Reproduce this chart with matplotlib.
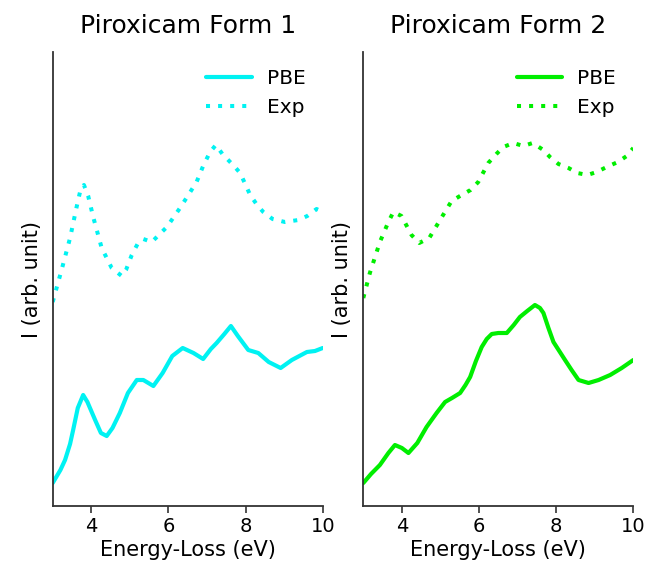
import matplotlib
matplotlib.use("Agg")
import matplotlib.pyplot as plt

titles = ["Piroxicam Form 1", "Piroxicam Form 2"]
series_labels = ["PBE", "Exp"]
xticks = [4, 6, 8, 10]

# Form 1
e1_pbe = [3.00, 3.20, 3.32, 3.45, 3.53, 3.65, 3.79, 3.90, 4.10, 4.25, 4.40, 4.55, 4.74, 4.95,
          5.18, 5.35, 5.61, 5.85, 6.10, 6.37, 6.65, 6.90, 7.10, 7.25, 7.45, 7.62, 7.80, 8.07,
          8.33, 8.60, 8.91, 9.20, 9.59, 9.80, 10.0]
i1_pbe = [23, 36, 46, 62, 76, 98, 111, 104, 86, 73, 70, 78, 93, 113,
          126, 126, 120, 133, 150, 158, 153, 147, 157, 163, 172, 180, 170, 156,
          153, 144, 138, 146, 154, 155, 158]
e1_exp = [3.00, 3.23, 3.45, 3.62, 3.72, 3.81, 3.92, 4.05, 4.27, 4.53, 4.79, 4.90, 5.05, 5.20,
          5.35, 5.57, 5.75, 5.96, 6.30, 6.50, 6.73, 6.90, 7.08, 7.23, 7.40, 7.55, 7.70, 7.86,
          8.12, 8.30, 8.46, 8.70, 9.02, 9.37, 9.60, 9.84, 10.0]
i1_exp = [204, 236, 268, 299, 316, 321, 310, 289, 258, 238, 230, 236, 251, 262,
          267, 264, 271, 279, 298, 310, 324, 340, 354, 361, 352, 346, 340, 333,
          311, 301, 294, 287, 284, 286, 290, 297, 294]

# Form 2
e2_pbe = [3.00, 3.20, 3.43, 3.65, 3.82, 4.00, 4.17, 4.40, 4.64, 4.90, 5.12, 5.30, 5.51, 5.65,
          5.77, 5.92, 6.07, 6.20, 6.33, 6.50, 6.72, 6.90, 7.06, 7.25, 7.45, 7.58, 7.67, 7.80,
          7.93, 8.23, 8.40, 8.58, 8.84, 9.10, 9.40, 9.70, 10.0]
i2_pbe = [23, 32, 41, 53, 61, 58, 53, 63, 79, 93, 104, 108, 113, 121,
          129, 145, 159, 167, 172, 173, 173, 181, 189, 195, 201, 198, 193, 178,
          164, 146, 136, 126, 123, 126, 131, 138, 146]
e2_exp = [3.00, 3.17, 3.43, 3.65, 3.78, 3.99, 4.25, 4.45, 4.71, 4.99, 5.29, 5.55, 5.78, 5.98,
          6.24, 6.45, 6.63, 6.89, 7.15, 7.39, 7.67, 7.84, 8.06, 8.32, 8.55, 8.81, 9.05, 9.31,
          9.60, 9.83, 10.0]
i2_exp = [208, 233, 264, 284, 294, 290, 271, 263, 268, 286, 305, 311, 316, 324,
          343, 352, 359, 363, 360, 363, 356, 349, 342, 338, 333, 331, 334, 339,
          344, 350, 358]

colors = ["#00F2F2", "#00EE00"]

fig = plt.figure(figsize=(6.62, 5.78), dpi=100)
positions = [[52.7 / 662, 72 / 578, 270 / 662, 454 / 578],
             [363.3 / 662, 72 / 578, 270 / 662, 454 / 578]]
data = [(e1_pbe, i1_pbe, e1_exp, i1_exp), (e2_pbe, i2_pbe, e2_exp, i2_exp)]

for k in range(2):
    ax = fig.add_axes(positions[k])
    ep, ip, ee, ie = data[k]
    ax.plot(ep, ip, color=colors[k], lw=3.0, solid_capstyle="round",
            solid_joinstyle="round", label=series_labels[0])
    ax.plot(ee, ie, color=colors[k], lw=2.9, linestyle=(0, (1, 2.0)),
            label=series_labels[1])
    ax.set_xlim(3, 10)
    ax.set_ylim(0, 454)
    ax.set_xticks(xticks)
    ax.set_yticks([])
    ax.tick_params(axis="x", labelsize=14, length=5, width=1.2, color="#333333",
                   pad=3)
    for s in ["top", "right"]:
        ax.spines[s].set_visible(False)
    for s in ["left", "bottom"]:
        ax.spines[s].set_linewidth(1.3)
        ax.spines[s].set_color("#333333")
    ax.set_title(titles[k], fontsize=18, pad=14)
    ax.set_xlabel("Energy-Loss (eV)", fontsize=15, labelpad=3)
    ax.set_ylabel("I (arb. unit)", fontsize=15, labelpad=8)
    ax.legend(loc="upper right", bbox_to_anchor=(1.0, 1.0), frameon=False,
              fontsize=14.5, handlelength=2.25, handletextpad=0.75,
              labelspacing=0.5, borderaxespad=0.45)

fig.savefig("out.png", dpi=100, facecolor="white")
